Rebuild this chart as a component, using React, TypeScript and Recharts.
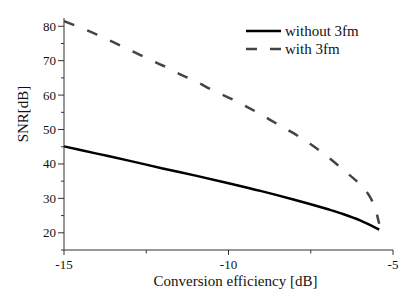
import React from "react";
import { LineChart, Line, XAxis, YAxis } from "recharts";

// conversion efficiency [dB] -> SNR [dB]
const xWithout = [-15, -14, -13, -12, -11, -10, -9, -8, -7, -6.5, -6, -5.75, -5.42];
const snrWithout = [45.1, 43.0, 40.9, 38.7, 36.6, 34.4, 32.1, 29.6, 26.9, 25.4, 23.6, 22.5, 20.9];

const xWith = [
  -15, -14.5, -14, -13.5, -13, -12.5, -12, -11.5, -11, -10.5, -10, -9.5, -9, -8.5, -8, -7.5, -7,
  -6.5, -6, -5.75, -5.6, -5.5, -5.42,
];
const snrWith = [
  81.5, 79.6, 77.6, 75.4, 73.1, 70.8, 68.6, 66.2, 64.0, 61.5, 59.3, 56.9, 54.3, 51.5, 48.8, 45.7,
  42.2, 38.2, 34.0, 31.2, 28.5, 25.7, 22.6,
];

const xTicks = [-15, -12.5, -10, -7.5, -5];
const xLabels = [-15, -10, -5];
const yTicks = [15, 20, 25, 30, 35, 40, 45, 50, 55, 60, 65, 70, 75, 80];
const yLabels = [20, 30, 40, 50, 60, 70, 80];

const seriesNames = ["without 3fm", "with 3fm"];

const withoutData = xWithout.map((x, i) => ({ x, snr: snrWithout[i] }));
const withData = xWith.map((x, i) => ({ x, snr: snrWith[i] }));

const FONT = "'Liberation Serif', 'Times New Roman', serif";
const AXIS_COLOR = "#333";

const XTick = (props: any) => {
  const { x, y, payload } = props;
  const major = xLabels.includes(payload.value);
  return (
    <g>
      <line x1={x} y1={y} x2={x} y2={y + (major ? 5 : 3.5)} stroke={AXIS_COLOR} />
      {major && (
        <text x={x} y={y + 19} textAnchor="middle" fontSize={13} fontFamily={FONT} fill="#111">
          {payload.value}
        </text>
      )}
    </g>
  );
};

const YTick = (props: any) => {
  const { x, y, payload } = props;
  const major = yLabels.includes(payload.value);
  return (
    <g>
      <line x1={x} y1={y} x2={x - (major ? 6 : 3)} y2={y} stroke={AXIS_COLOR} />
      {major && (
        <text x={x - 8} y={y + 4.5} textAnchor="end" fontSize={13} fontFamily={FONT} fill="#111">
          {payload.value}
        </text>
      )}
    </g>
  );
};

// drawn outside the chart so it does not shrink the plot area
const LegendBox = () => (
  <div
    style={{
      position: "absolute",
      top: 22,
      left: 246,
      fontFamily: FONT,
      fontSize: 15,
      color: "#111",
      lineHeight: "18px",
    }}
  >
    {seriesNames.map((name, i) => (
      <div key={name} style={{ display: "flex", alignItems: "center", height: 18 }}>
        <svg width={36} height={6} style={{ marginRight: 3 }}>
          <line
            x1={0}
            y1={3}
            x2={35}
            y2={3}
            stroke={i === 0 ? "#000" : "#444"}
            strokeWidth={2.5}
            strokeDasharray={i === 0 ? undefined : "11 13"}
          />
        </svg>
        <span>{name}</span>
      </div>
    ))}
  </div>
);

export default function App() {
  return (
    <div style={{ position: "absolute", left: 0, top: 0, width: 402, height: 293, background: "#fff" }}>
      <LineChart width={402} height={293} margin={{ top: 18, right: 9, left: 0, bottom: 0 }}>
        <XAxis
          type="number"
          dataKey="x"
          domain={[-15, -5]}
          ticks={xTicks}
          interval={0}
          height={43}
          tickSize={0}
          tickMargin={0}
          tickLine={false}
          tick={<XTick />}
          stroke={AXIS_COLOR}
          allowDuplicatedCategory={false}
          label={{
            value: "Conversion efficiency [dB]",
            position: "insideBottom",
            offset: 7,
            dx: 7,
            style: { fontFamily: FONT, fontSize: 15, fill: "#111" },
          }}
        />
        <YAxis
          type="number"
          domain={[15, 82.4]}
          ticks={yTicks}
          interval={0}
          width={64}
          tickSize={0}
          tickMargin={0}
          tickLine={false}
          tick={<YTick />}
          stroke={AXIS_COLOR}
          label={{
            value: "SNR[dB]",
            content: () => (
              <text
                x={28}
                y={114}
                transform="rotate(-90 28 114)"
                textAnchor="middle"
                fontFamily={FONT}
                fontSize={15}
                fill="#111"
              >
                SNR[dB]
              </text>
            ),
          }}
        />
        <Line
          data={withoutData}
          dataKey="snr"
          name={seriesNames[0]}
          type="monotone"
          stroke="#000"
          strokeWidth={2.5}
          dot={false}
          isAnimationActive={false}
        />
        <Line
          data={withData}
          dataKey="snr"
          name={seriesNames[1]}
          type="monotone"
          stroke="#444"
          strokeWidth={2.5}
          strokeDasharray="11 14"
          dot={false}
          isAnimationActive={false}
        />
      </LineChart>
      <LegendBox />
    </div>
  );
}
